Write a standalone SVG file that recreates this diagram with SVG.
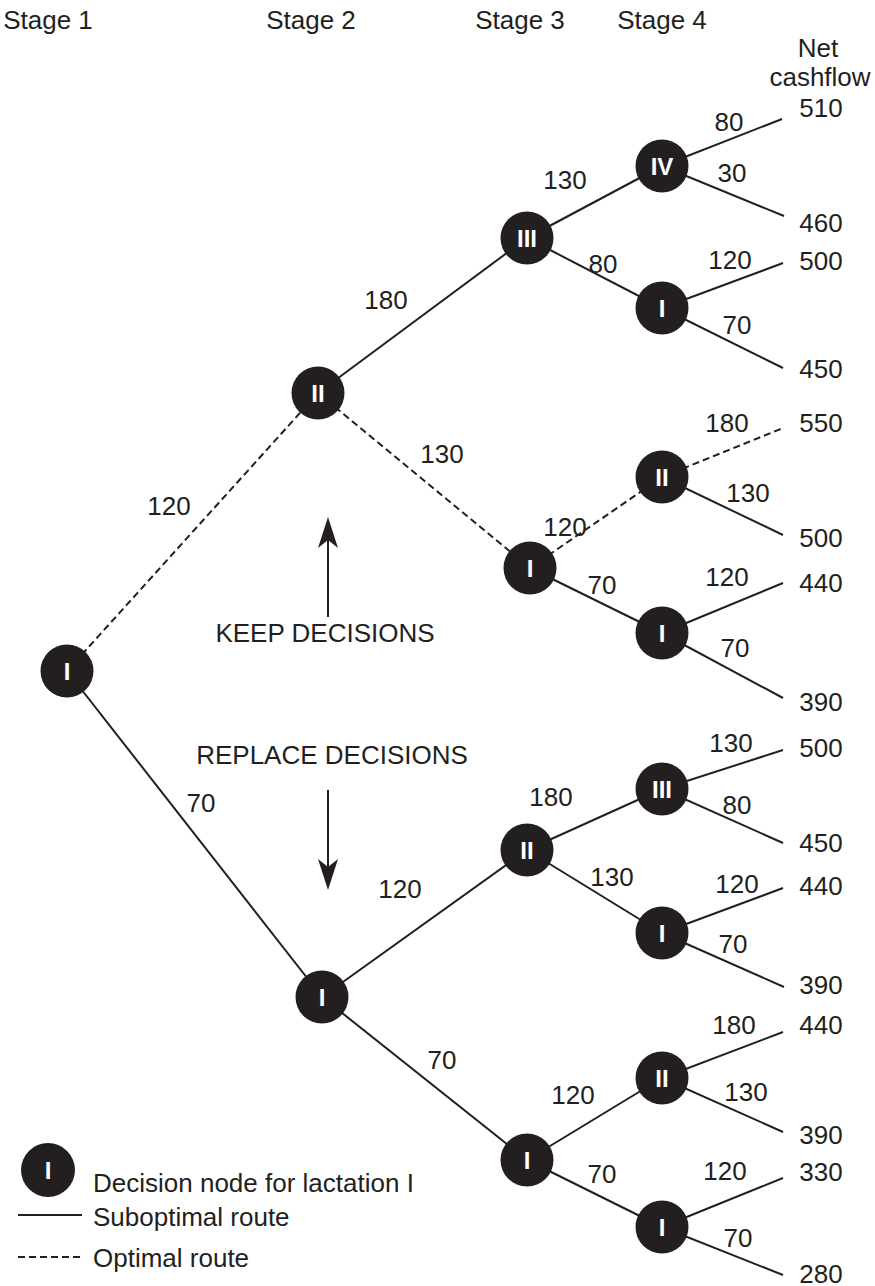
<svg xmlns="http://www.w3.org/2000/svg" width="875" height="1286" viewBox="0 0 875 1286">
<style>
text{font-family:"Liberation Sans",Arial,sans-serif;font-size:26px;fill:#231f20}
.m{text-anchor:middle}
.e line{stroke:#231f20;stroke-width:2}
.d{stroke-dasharray:7 4}
.n circle{fill:#231f20}
.n text{fill:#fff;font-size:24px;font-weight:bold;text-anchor:middle}
</style>
<defs>
<marker id="ah" markerUnits="userSpaceOnUse" markerWidth="34" markerHeight="24" viewBox="-31 -12 34 24" refX="-8" refY="0" orient="auto">
<path d="M0,0 L-31,-10 L-23,0 L-31,10 Z" fill="#231f20"/>
</marker>
</defs>
<rect width="875" height="1286" fill="#fff"/>
<g id="headers">
<text class="m" x="48" y="29">Stage 1</text>
<text class="m" x="311" y="29">Stage 2</text>
<text class="m" x="520" y="29">Stage 3</text>
<text class="m" x="662" y="29">Stage 4</text>
<text class="m" x="818" y="57">Net</text>
<text class="m" x="820" y="86">cashflow</text>
</g>
<g id="connectors" class="e">
<line class="d" x1="67" y1="671" x2="318" y2="393"/>
<line x1="67" y1="671" x2="322" y2="997"/>
<line x1="318" y1="393" x2="527" y2="238"/>
<line class="d" x1="318" y1="393" x2="530" y2="568"/>
<line x1="322" y1="997" x2="527" y2="850"/>
<line x1="322" y1="997" x2="527" y2="1160"/>
<line x1="527" y1="238" x2="662" y2="166"/>
<line x1="527" y1="238" x2="662" y2="308"/>
<line class="d" x1="530" y1="568" x2="662" y2="477"/>
<line x1="530" y1="568" x2="662" y2="633"/>
<line x1="527" y1="850" x2="662" y2="789"/>
<line x1="527" y1="850" x2="662" y2="933"/>
<line x1="527" y1="1160" x2="662" y2="1078"/>
<line x1="527" y1="1160" x2="662" y2="1227"/>
<line x1="662" y1="166" x2="782" y2="119"/>
<line x1="662" y1="166" x2="784" y2="216"/>
<line x1="662" y1="308" x2="783" y2="263"/>
<line x1="662" y1="308" x2="783" y2="368"/>
<line class="d" x1="662" y1="477" x2="783" y2="428"/>
<line x1="662" y1="477" x2="783" y2="535"/>
<line x1="662" y1="633" x2="783" y2="583"/>
<line x1="662" y1="633" x2="783" y2="698"/>
<line x1="662" y1="789" x2="783" y2="750"/>
<line x1="662" y1="789" x2="783" y2="843"/>
<line x1="662" y1="933" x2="783" y2="888"/>
<line x1="662" y1="933" x2="784" y2="987"/>
<line x1="662" y1="1078" x2="783" y2="1032"/>
<line x1="662" y1="1078" x2="783" y2="1132"/>
<line x1="662" y1="1227" x2="783" y2="1178"/>
<line x1="662" y1="1227" x2="783" y2="1275"/>
</g>
<g id="edge-labels">
<text class="m" x="169" y="515">120</text>
<text class="m" x="201" y="812">70</text>
<text class="m" x="386" y="309">180</text>
<text class="m" x="442" y="463">130</text>
<text class="m" x="400" y="898">120</text>
<text class="m" x="442" y="1069">70</text>
<text class="m" x="565" y="189">130</text>
<text class="m" x="603" y="273">80</text>
<text class="m" x="565" y="536">120</text>
<text class="m" x="602" y="594">70</text>
<text class="m" x="551" y="806">180</text>
<text class="m" x="612" y="886">130</text>
<text class="m" x="573" y="1104">120</text>
<text class="m" x="602" y="1183">70</text>
<text class="m" x="729" y="131">80</text>
<text class="m" x="732" y="182">30</text>
<text class="m" x="730" y="269">120</text>
<text class="m" x="737" y="334">70</text>
<text class="m" x="727" y="432">180</text>
<text class="m" x="748" y="502">130</text>
<text class="m" x="727" y="586">120</text>
<text class="m" x="735" y="657">70</text>
<text class="m" x="731" y="752">130</text>
<text class="m" x="737" y="814">80</text>
<text class="m" x="737" y="893">120</text>
<text class="m" x="733" y="953">70</text>
<text class="m" x="734" y="1034">180</text>
<text class="m" x="746" y="1101">130</text>
<text class="m" x="725" y="1180">120</text>
<text class="m" x="738" y="1247">70</text>
</g>
<g id="outcomes">
<text class="m" x="821" y="117">510</text>
<text class="m" x="821" y="232">460</text>
<text class="m" x="821" y="270">500</text>
<text class="m" x="821" y="378">450</text>
<text class="m" x="821" y="432">550</text>
<text class="m" x="821" y="547">500</text>
<text class="m" x="821" y="592">440</text>
<text class="m" x="821" y="711">390</text>
<text class="m" x="821" y="757">500</text>
<text class="m" x="821" y="852">450</text>
<text class="m" x="821" y="895">440</text>
<text class="m" x="821" y="994">390</text>
<text class="m" x="821" y="1034">440</text>
<text class="m" x="821" y="1144">390</text>
<text class="m" x="821" y="1181">330</text>
<text class="m" x="821" y="1283">280</text>
</g>
<g id="decision-arrows" class="e">
<line x1="328" y1="617" x2="328" y2="525" marker-end="url(#ah)"/>
<text class="m" x="325" y="642">KEEP DECISIONS</text>
<text class="m" x="332" y="764">REPLACE DECISIONS</text>
<line x1="328" y1="790" x2="328" y2="882" marker-end="url(#ah)"/>
</g>
<g id="n-s1-I" class="n"><circle cx="67" cy="671" r="26.5"/><text x="67" y="680">I</text></g>
<g id="n-s2-II" class="n"><circle cx="318" cy="393" r="26.5"/><text x="318" y="402">II</text></g>
<g id="n-s2-I" class="n"><circle cx="322" cy="997" r="26.5"/><text x="322" y="1006">I</text></g>
<g id="n-s3-III" class="n"><circle cx="527" cy="238" r="26.5"/><text x="527" y="247">III</text></g>
<g id="n-s3-I-a" class="n"><circle cx="530" cy="568" r="26.5"/><text x="530" y="577">I</text></g>
<g id="n-s3-II" class="n"><circle cx="527" cy="850" r="26.5"/><text x="527" y="859">II</text></g>
<g id="n-s3-I-b" class="n"><circle cx="527" cy="1160" r="26.5"/><text x="527" y="1169">I</text></g>
<g id="n-s4-IV" class="n"><circle cx="662" cy="166" r="26.5"/><text x="662" y="175">IV</text></g>
<g id="n-s4-I-a" class="n"><circle cx="662" cy="308" r="26.5"/><text x="662" y="317">I</text></g>
<g id="n-s4-II-a" class="n"><circle cx="662" cy="477" r="26.5"/><text x="662" y="486">II</text></g>
<g id="n-s4-I-b" class="n"><circle cx="662" cy="633" r="26.5"/><text x="662" y="642">I</text></g>
<g id="n-s4-III" class="n"><circle cx="662" cy="789" r="26.5"/><text x="662" y="798">III</text></g>
<g id="n-s4-I-c" class="n"><circle cx="662" cy="933" r="26.5"/><text x="662" y="942">I</text></g>
<g id="n-s4-II-b" class="n"><circle cx="662" cy="1078" r="26.5"/><text x="662" y="1087">II</text></g>
<g id="n-s4-I-d" class="n"><circle cx="662" cy="1227" r="26.5"/><text x="662" y="1236">I</text></g>
<g id="legend">
<g class="n"><circle cx="48" cy="1170" r="27"/><text x="48" y="1179">I</text></g>
<text x="93" y="1192">Decision node for lactation I</text>
<g class="e"><line x1="18" y1="1215" x2="82" y2="1215"/><line class="d" x1="18" y1="1257" x2="82" y2="1257"/></g>
<text x="93" y="1226">Suboptimal route</text>
<text x="93" y="1267">Optimal route</text>
</g>
</svg>
